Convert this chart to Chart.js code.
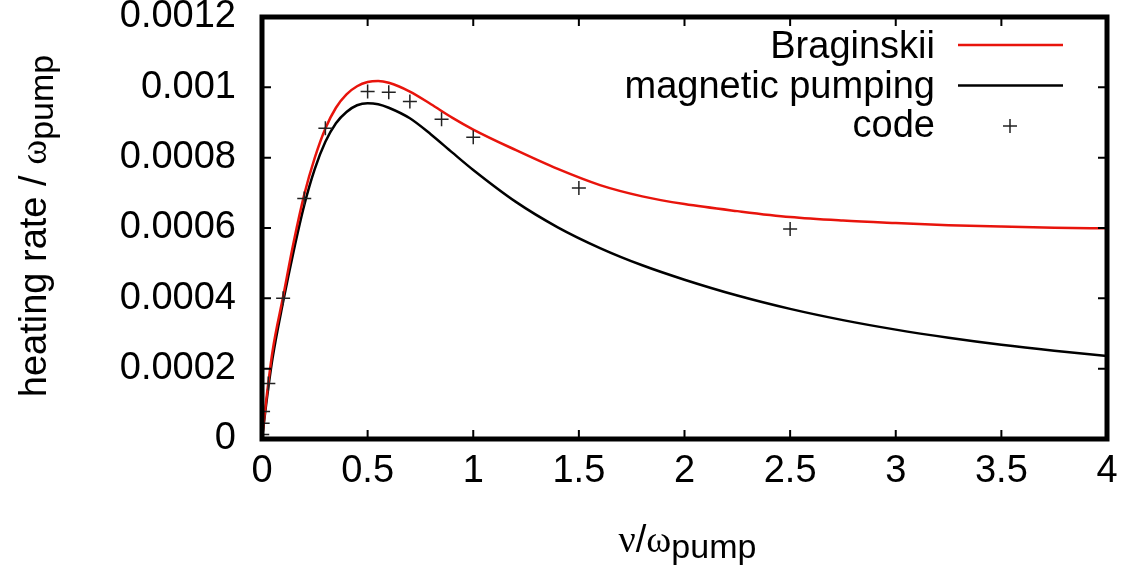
<!DOCTYPE html>
<html lang="en">
<head>
    <meta charset="UTF-8">
    <title>heating rate vs nu/omega_pump</title>
    <script src="https://cdn.jsdelivr.net/npm/chart.js"></script>
    <style>
        html, body { margin: 0; padding: 0; background: #fff; }
        #wrap { width: 1142px; height: 571px; }
    </style>
</head>
<body>
    <div id="wrap"><canvas id="myChart"></canvas></div>

    <script>
        // nu / omega_pump values used for both model curves
        const nuGrid = [0, 0.02, 0.05, 0.1, 0.15, 0.2, 0.25, 0.3, 0.35, 0.4, 0.45, 0.5, 0.55, 0.6,
            0.7, 0.8, 0.9, 1.0, 1.2, 1.4, 1.6, 1.8, 2.0, 2.25, 2.5, 2.75, 3.0, 3.25, 3.5, 3.75, 4.0];
        const braginskii = [0, 0.00011, 0.00025, 0.000405, 0.00056, 0.000695, 0.0008, 0.000883, 0.000942,
            0.00098, 0.001003, 0.001015, 0.001018, 0.001013, 0.000988, 0.000952, 0.000914, 0.00088,
            0.000822, 0.000768, 0.000722, 0.00069, 0.000668, 0.000648, 0.000631, 0.000621, 0.000614,
            0.000608, 0.000604, 0.000601, 0.000599];
        const magneticPumping = [0, 0.0001, 0.00023, 0.00039, 0.000535, 0.000665, 0.000768, 0.000845,
            0.000898, 0.00093, 0.000949, 0.000955, 0.000952, 0.000942, 0.000912, 0.000866, 0.000815,
            0.000765, 0.000675, 0.000602, 0.000543, 0.000494, 0.000453, 0.000408, 0.00037, 0.000338,
            0.000311, 0.000288, 0.000268, 0.000251, 0.000236];

        // simulation results
        const codeNu = [0.001, 0.003, 0.005, 0.03, 0.1, 0.2, 0.3, 0.5, 0.6, 0.7, 0.85, 1.0, 1.5, 2.5];
        const codeRate = [0.000013, 0.000045, 0.000078, 0.000158, 0.0004, 0.000684, 0.000884, 0.000988,
            0.000986, 0.00096, 0.000909, 0.000858, 0.000714, 0.000597];

        const xTicks = [0, 0.5, 1, 1.5, 2, 2.5, 3, 3.5, 4];
        const xTickLabels = ['0', '0.5', '1', '1.5', '2', '2.5', '3', '3.5', '4'];
        const yTicks = [0, 0.0002, 0.0004, 0.0006, 0.0008, 0.001, 0.0012];
        const yTickLabels = ['0', '0.0002', '0.0004', '0.0006', '0.0008', '0.001', '0.0012'];

        const SANS = '"Liberation Sans", Arial, Helvetica, sans-serif';
        const SERIF = '"Liberation Serif", "DejaVu Serif", serif';

        const toPoints = (xs, ys) => xs.map((v, i) => ({ x: v, y: ys[i] }));

        // draws text made of several runs (for the subscripts)
        function drawRuns(ctx, runs, cx, baseY) {
            let total = 0;
            runs.forEach(r => { ctx.font = r.font; r.w = ctx.measureText(r.text).width; total += r.w; });
            let x = cx - total / 2;
            runs.forEach(r => {
                ctx.font = r.font;
                ctx.fillText(r.text, x, baseY + (r.dy || 0));
                x += r.w;
            });
        }

        // gnuplot-like frame, inward ticks, legend and axis titles
        const gnuplotLook = {
            id: 'gnuplotLook',
            afterDraw(chart) {
                const { ctx, chartArea: a, scales: { x, y } } = chart;
                ctx.save();
                ctx.strokeStyle = '#000';
                ctx.lineWidth = 2;
                ctx.beginPath();
                xTicks.forEach(v => {
                    const px = x.getPixelForValue(v);
                    ctx.moveTo(px, a.bottom); ctx.lineTo(px, a.bottom - 9);
                    ctx.moveTo(px, a.top); ctx.lineTo(px, a.top + 9);
                });
                yTicks.forEach(v => {
                    const py = y.getPixelForValue(v);
                    ctx.moveTo(a.left, py); ctx.lineTo(a.left + 9, py);
                    ctx.moveTo(a.right, py); ctx.lineTo(a.right - 9, py);
                });
                ctx.stroke();
                ctx.lineWidth = 5;
                ctx.strokeRect(a.left, a.top, a.right - a.left, a.bottom - a.top);

                // legend
                ctx.fillStyle = '#000';
                ctx.font = '38px ' + SANS;
                ctx.textAlign = 'right';
                ctx.textBaseline = 'alphabetic';
                chart.data.datasets.forEach((ds, i) => {
                    ctx.fillText(ds.label, a.right - 172, a.top + 41 + i * 39.5);
                    const sy = a.top + 28 + i * 40.5;
                    ctx.strokeStyle = ds.borderColor;
                    if (ds.showLine === false) {
                        const cx = a.right - 97;
                        ctx.lineWidth = 1.5;
                        ctx.beginPath();
                        ctx.moveTo(cx - 7, sy); ctx.lineTo(cx + 7, sy);
                        ctx.moveTo(cx, sy - 7); ctx.lineTo(cx, sy + 7);
                        ctx.stroke();
                    } else {
                        ctx.lineWidth = ds.borderWidth;
                        ctx.beginPath();
                        ctx.moveTo(a.right - 149, sy); ctx.lineTo(a.right - 44, sy);
                        ctx.stroke();
                    }
                });

                // axis titles
                ctx.textAlign = 'left';
                drawRuns(ctx, [
                    { text: 'ν', font: '38px ' + SERIF },
                    { text: '/', font: '38px ' + SANS },
                    { text: 'ω', font: '38px ' + SERIF },
                    { text: 'pump', font: '34px ' + SANS, dy: 6 }
                ], (a.left + a.right) / 2 + 3, 552);

                ctx.translate(46, (a.top + a.bottom) / 2 - 2);
                ctx.rotate(-Math.PI / 2);
                drawRuns(ctx, [
                    { text: 'heating rate / ', font: '38px ' + SANS },
                    { text: 'ω', font: '38px ' + SERIF },
                    { text: 'pump', font: '34px ' + SANS, dy: 7 }
                ], 0, 0);
                ctx.restore();
            }
        };

        const ctx = document.getElementById('myChart').getContext('2d');
        const myChart = new Chart(ctx, {
            type: 'line',
            data: {
                datasets: [{
                    label: 'Braginskii',
                    data: toPoints(nuGrid, braginskii),
                    borderColor: '#e8140c',
                    borderWidth: 2.5,
                    pointRadius: 0,
                    cubicInterpolationMode: 'monotone',
                    order: 1
                }, {
                    label: 'magnetic pumping',
                    data: toPoints(nuGrid, magneticPumping),
                    borderColor: '#000000',
                    borderWidth: 2.5,
                    pointRadius: 0,
                    cubicInterpolationMode: 'monotone',
                    order: 2
                }, {
                    label: 'code',
                    data: toPoints(codeNu, codeRate),
                    showLine: false,
                    borderColor: '#222222',
                    backgroundColor: '#222222',
                    pointStyle: 'cross',
                    pointRadius: 7,
                    pointBorderWidth: 1.5,
                    order: 0
                }]
            },
            options: {
                responsive: true,
                maintainAspectRatio: false,
                animation: false,
                devicePixelRatio: 1,
                layout: { padding: { left: 0, right: 35, top: 17, bottom: 0 } },
                plugins: {
                    legend: { display: false },
                    tooltip: { enabled: false }
                },
                scales: {
                    x: {
                        type: 'linear',
                        min: 0,
                        max: 4,
                        grid: { display: false, drawTicks: false },
                        border: { display: false },
                        afterBuildTicks: s => { s.ticks = xTicks.map(v => ({ value: v })); },
                        afterFit: s => { s.height = 132; s.paddingLeft = 0; s.paddingRight = 0; },
                        ticks: {
                            color: '#000',
                            padding: 10,
                            maxRotation: 0,
                            font: { family: SANS, size: 38 },
                            callback: (v, i) => xTickLabels[i]
                        }
                    },
                    y: {
                        min: 0,
                        max: 0.0012,
                        grid: { display: false, drawTicks: false },
                        border: { display: false },
                        afterBuildTicks: s => { s.ticks = yTicks.map(v => ({ value: v })); },
                        afterFit: s => { s.width = 262; s.paddingTop = 0; s.paddingBottom = 0; },
                        ticks: {
                            color: '#000',
                            padding: 26,
                            font: { family: SANS, size: 38 },
                            callback: (v, i) => yTickLabels[i]
                        }
                    }
                }
            },
            plugins: [gnuplotLook]
        });
    </script>
</body>
</html>
